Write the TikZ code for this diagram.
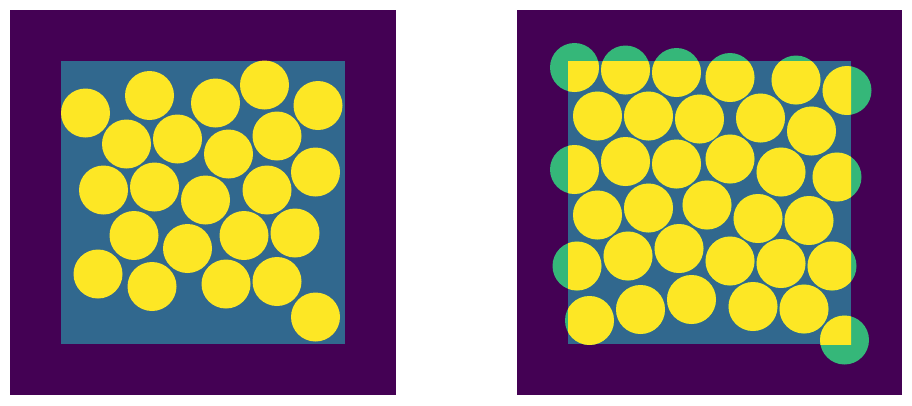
\documentclass[tikz,border=0pt]{standalone}
\usetikzlibrary{positioning}
\definecolor{vpurple}{HTML}{440154}
\definecolor{vteal}{HTML}{31688E}
\definecolor{vgreen}{HTML}{35B779}
\definecolor{vyellow}{HTML}{FDE725}

\begin{document}
\begin{tikzpicture}[
    x=1pt, y=-1pt,
    outer/.style={fill=vpurple},
    inner/.style={fill=vteal},
    grain/.style={fill=vyellow},
    spill/.style={fill=vgreen},
]
\useasboundingbox (0,0) rectangle (912,405);
% left panel: every grain inside the box
\fill[outer] (10,10) rectangle (396,395);
\fill[inner] (61,61) rectangle (345,344);
\foreach \x/\y in {85.5/113, 149.5/95.5, 215.5/103, 264.5/85, 318/105.5,
    126.5/144, 177.5/139, 228.5/154, 277/136, 103.5/190, 154.5/187,
    205.5/200, 267/190, 315.5/172, 134/235.5, 187.5/248.5, 244/235.5,
    295/233, 98/274, 152/286.5, 226/284, 277/281.5, 315.5/317}
  \fill[grain] (\x,\y) circle (24.5);
% right panel: grains may stick out of the box
\fill[outer] (517,10) rectangle (902,395);
\fill[inner] (568,61) rectangle (851,344);
\def\rightgrains{574.5/67.5, 625.5/70, 676.5/72.5, 730/77.5, 796/80, 847/90.5,
    597.5/116, 648.5/116, 699.5/119, 760.5/118, 811.5/131,
    574.5/169.5, 625.5/161.5, 676.5/164, 730/159, 781/172, 837/177,
    597.5/215, 648.5/208, 707/205, 758/218.5, 809/220.5,
    577/266, 628/256, 679/248.5, 730/261, 781/263.5, 832/266,
    589.5/320.5, 640.5/309.5, 691.5/299.5, 753/306.5, 804/309, 844.5/340}
\begin{scope}
  \clip (517,10) rectangle (902,395);
  \foreach \x/\y in \rightgrains
    \fill[spill] (\x,\y) circle (24.5);
\end{scope}
\begin{scope}
  \clip (568,61) rectangle (851,344);
  \foreach \x/\y in \rightgrains
    \fill[grain] (\x,\y) circle (24.5);
\end{scope}
\end{tikzpicture}
\end{document}
